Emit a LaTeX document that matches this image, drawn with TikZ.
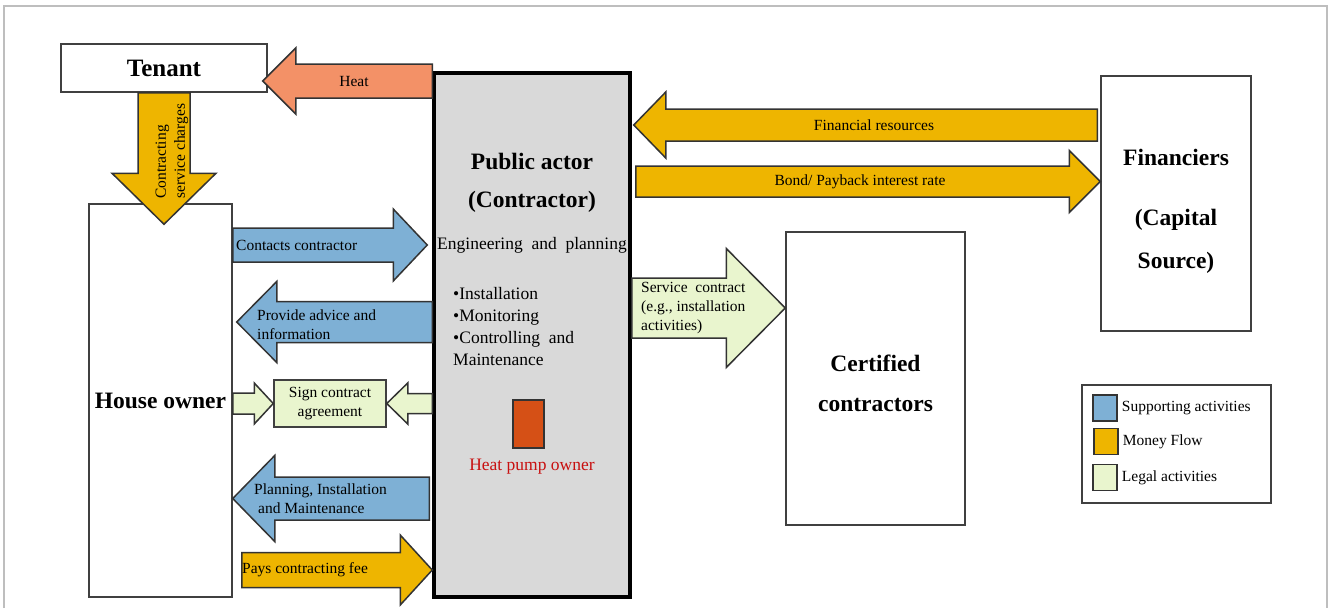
\documentclass[tikz,border=0pt]{standalone}
\usepackage{fontspec}
\setmainfont{Liberation Serif}
\usepackage{tikz}
\usetikzlibrary{calc,positioning}

\definecolor{supblue}{RGB}{126,176,213}
\definecolor{moneygold}{RGB}{238,181,0}
\definecolor{legalgreen}{RGB}{233,245,206}
\definecolor{heatsalmon}{RGB}{243,145,103}
\definecolor{pumporange}{RGB}{213,80,22}
\definecolor{ownerred}{RGB}{200,16,16}
\definecolor{framegray}{RGB}{190,190,190}

\newcommand{\blockarrow}[6]{%
  \coordinate (bat) at (#2); \coordinate (bap) at (#3);
  \coordinate (bab) at ($(bap)!#6!(bat)$);
  \draw[#1] ($(bat)!#4!90:(bap)$) -- ($(bab)!#4!90:(bap)$) -- ($(bab)!#5!90:(bap)$) -- (bap)
    -- ($(bab)!#5!-90:(bap)$) -- ($(bab)!#4!-90:(bap)$) -- ($(bat)!#4!-90:(bap)$) -- cycle;}

\tikzset{
  actor/.style={draw=black!75, line width=1.5pt, fill=white, inner sep=0pt},
  big/.style={font=\fontsize{23.5}{28}\selectfont\bfseries, inner sep=0pt},
  lbl/.style={font=\fontsize{15.5}{19}\selectfont, inner sep=0pt},
  mid/.style={font=\fontsize{17.5}{22}\selectfont, inner sep=0pt},
  flow/.style={draw=black!80, line width=1.5pt, line join=miter},
  supp/.style={flow, fill=supblue},
  money/.style={flow, fill=moneygold},
  legal/.style={flow, fill=legalgreen},
  heat/.style={flow, fill=heatsalmon},
  key/.style={flow, inner sep=0pt, minimum width=24pt, minimum height=26pt}
}

\begin{document}
\begin{tikzpicture}[x=1pt, y=-1pt]
    \useasboundingbox (0,0) rectangle (1328,608);
    \draw[framegray, line width=1.5pt] (4,608) -- (4,6) -- (1327,6) -- (1327,608);

    \node[actor, big, font=\fontsize{25}{30}\selectfont\bfseries, minimum width=206pt, minimum height=48pt] (tenant) at (164,68) {Tenant};
    \node[actor, big, minimum width=143pt, minimum height=393pt] (house) at (160.5,400.5) {House owner};
    \node[actor, fill=black!15, draw=black, line width=3.5pt, minimum width=196pt, minimum height=524pt] (pub) at (532,335) {};
    \node[actor, minimum width=150pt, minimum height=255pt] (fin) at (1176,203.5) {};
    \node[actor, minimum width=179pt, minimum height=293pt] (cert) at (875.5,378.5) {};
    \node[actor, fill=legalgreen, lbl, align=center, font=\fontsize{15.5}{18.5}\selectfont, minimum width=112pt, minimum height=47pt] (sign) at (330,403.5) {Sign contract\\agreement};
    \node[actor, minimum width=189pt, minimum height=118pt] (legend) at (1176.5,444) {};
    \node[flow, fill=pumporange, minimum width=31pt, minimum height=48pt, inner sep=0pt] (pump) at (528.5,424) {};

    \node[big] at (532,161) {Public actor};
    \node[big] at (532,202) {(Contractor)};
    \node[mid] (eng) at (532,245) {Engineering\ \ and\ \ planning};
    \node[mid, align=left, anchor=north west] (tasks) at (453,287) {•Installation\\•Monitoring\\•Controlling\ \ and\\Maintenance};
    \node[mid, text=ownerred] (owner) at (532,467) {Heat\ pump\ owner};

    \node[big] at (1176,157) {Financiers};
    \node[big] at (1176,220) {(Capital};
    \node[big] at (1176,263) {Source)};
    \node[big] at (875.5,363) {Certified};
    \node[big] at (875.5,405) {contractors};

    \blockarrow{heat}{pub.west |- 0,81}{$(tenant.east |- 0,81)+(-5,0)$}{17pt}{33pt}{33pt}
    \blockarrow{money}{tenant.south}{$(tenant.south |- house.north)+(0,21)$}{26pt}{52pt}{51pt}
    \blockarrow{supp}{house.east |- 0,245}{$(pub.west |- 0,245)+(-5,0)$}{17pt}{36pt}{34pt}
    \blockarrow{supp}{pub.west |- 0,322}{$(house.east |- 0,322)+(4,0)$}{20.5pt}{40.5pt}{40pt}
    \blockarrow{legal}{house.east |- sign.west}{sign.west}{10.5pt}{20.5pt}{19pt}
    \blockarrow{legal}{pub.west |- sign.east}{sign.east}{10pt}{20.5pt}{21pt}
    \blockarrow{supp}{$(pub.west |- 0,498.5)+(-3,0)$}{house.east |- 0,498.5}{21.5pt}{43pt}{42pt}
    \blockarrow{money}{$(house.east |- 0,570)+(9,0)$}{pub.west |- 0,570}{17.5pt}{35pt}{32pt}
    \blockarrow{money}{$(fin.west |- 0,125)+(-3,0)$}{$(pub.east |- 0,125)+(2,0)$}{16pt}{33pt}{32pt}
    \blockarrow{money}{$(pub.east |- 0,181.5)+(4,0)$}{fin.west |- 0,181.5}{15.5pt}{31pt}{31pt}
    \blockarrow{legal}{pub.east |- 0,308}{cert.west |- 0,308}{30pt}{59.5pt}{59pt}

    \node[lbl] at (354,81) {Heat};
    \node[lbl, rotate=90, align=left] at (172,151) {Contracting\\service charges};
    \node[lbl, anchor=west] at (236,245) {Contacts contractor};
    \node[lbl, anchor=west, align=left] at (257,324.5) {Provide advice and\\information};
    \node[lbl, anchor=west, align=left] at (254,499) {Planning, Installation\\\hspace*{4pt}and Maintenance};
    \node[lbl, anchor=west] at (242,570) {Pays contracting fee};
    \node[lbl] at (874,125) {Financial resources};
    \node[lbl] at (860,181.5) {Bond/ Payback interest rate};
    \node[lbl, anchor=west, align=left] at (641,308.5) {Service\ \ contract\\(e.g., installation\\activities)};

    \node[key, fill=supblue] (keysupp) at (1105,408) {};
    \node[key, fill=moneygold] (keymoney) at (1106,441.5) {};
    \node[key, fill=legalgreen] (keylegal) at (1105,477.5) {};
    \node[lbl, right=4pt of keysupp] {Supporting activities};
    \node[lbl, right=4pt of keymoney] {Money Flow};
    \node[lbl, right=4pt of keylegal] {Legal\ activities};
\end{tikzpicture}
\end{document}
